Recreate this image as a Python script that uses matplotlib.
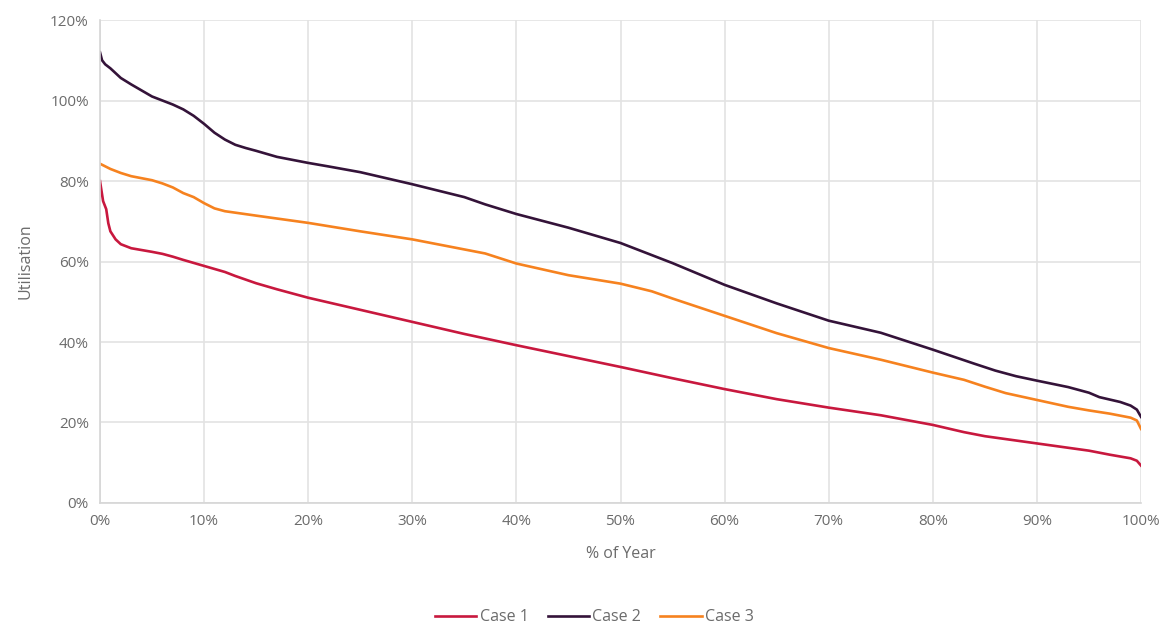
import matplotlib.pyplot as plt
from matplotlib.ticker import FuncFormatter, MultipleLocator

# % of year (x) and utilisation % (y)
case1_x = [0, 0.3, 0.6, 0.8, 1, 1.5, 2, 3, 5, 6, 7, 8, 10, 12, 13, 15, 17, 20, 25, 30, 35, 40,
           45, 50, 55, 60, 65, 70, 75, 80, 83, 85, 90, 95, 97, 99, 99.6, 100]
case1_y = [80, 75, 73, 69.5, 67.5, 65.5, 64.3, 63.3, 62.4, 61.9, 61.2, 60.4, 58.9, 57.4, 56.4,
           54.6, 53.1, 51, 48, 45, 42, 39.2, 36.5, 33.8, 31, 28.3, 25.8, 23.7, 21.8, 19.4, 17.6,
           16.6, 14.8, 13, 12, 11.1, 10.5, 9.3]

case2_x = [0, 0.2, 0.5, 1, 2, 3, 4, 5, 6, 7, 8, 9, 10, 11, 12, 13, 14, 15, 17, 20, 22, 25,
           30, 35, 37, 40, 45, 50, 55, 60, 65, 70, 75, 80, 84, 86, 88, 90, 93, 95, 96, 98, 99,
           99.6, 100]
case2_y = [112, 110, 109, 108, 105.6, 104, 102.5, 101, 100, 99, 97.8, 96.2, 94.2, 92, 90.3,
           89, 88.2, 87.5, 86, 84.5, 83.6, 82.2, 79.2, 76, 74.2, 71.8, 68.4, 64.6, 59.6, 54.2,
           49.6, 45.3, 42.3, 38.1, 34.6, 32.9, 31.5, 30.4, 28.8, 27.4, 26.3, 25.1, 24.2, 23.2,
           21.4]

case3_x = [0, 1, 2, 3, 5, 6, 7, 8, 9, 10, 11, 12, 15, 20, 25, 30, 35, 37, 40, 45, 50, 53,
           55, 60, 65, 70, 75, 80, 83, 85, 87, 90, 93, 95, 97, 99, 99.6, 100]
case3_y = [84.3, 83, 82, 81.2, 80.2, 79.4, 78.4, 77, 76, 74.5, 73.2, 72.5, 71.4, 69.6, 67.5,
           65.5, 63, 62, 59.5, 56.6, 54.5, 52.6, 50.8, 46.5, 42.2, 38.5, 35.6, 32.4, 30.6,
           28.9, 27.3, 25.6, 23.9, 23, 22.2, 21.2, 20.5, 18.4]

series = [
    ("Case 1", case1_x, case1_y, "#C8183E"),
    ("Case 2", case2_x, case2_y, "#341339"),
    ("Case 3", case3_x, case3_y, "#F6821F"),
]

text_color = "#6b6b6b"
plt.rcParams["font.family"] = ["Open Sans", "DejaVu Sans"]

fig = plt.figure(figsize=(11.68, 6.26), dpi=100)
ax = fig.add_axes([0.0856, 0.1965, 0.8913, 0.7715])

for name, xs, ys, color in series:
    ax.plot(xs, ys, color=color, linewidth=1.9, label=name, solid_joinstyle="round")

ax.set_xlim(0, 100)
ax.set_ylim(0, 120)
ax.xaxis.set_major_locator(MultipleLocator(10))
ax.yaxis.set_major_locator(MultipleLocator(20))
pct = FuncFormatter(lambda v, p: f"{v:.0f}%")
ax.xaxis.set_major_formatter(pct)
ax.yaxis.set_major_formatter(pct)

ax.grid(True, color="#e3e3e3", linewidth=1.2)
ax.set_axisbelow(True)
for side in ["top", "right"]:
    ax.spines[side].set_visible(False)
for side in ["left", "bottom"]:
    ax.spines[side].set_color("#d6d6d6")
    ax.spines[side].set_linewidth(1.2)
ax.tick_params(length=0, labelsize=11, labelcolor=text_color, pad=8)

ax.set_xlabel("% of Year", fontsize=11.5, color=text_color, labelpad=12)
ax.set_ylabel("Utilisation", fontsize=11.5, color=text_color, labelpad=12)

ax.legend(loc="upper center", bbox_to_anchor=(0.475, -0.19), ncol=3, frameon=False,
          fontsize=11.5, labelcolor=text_color, handlelength=2.6, handletextpad=0.2,
          columnspacing=1.2)

fig.savefig("out.png", dpi=100)
